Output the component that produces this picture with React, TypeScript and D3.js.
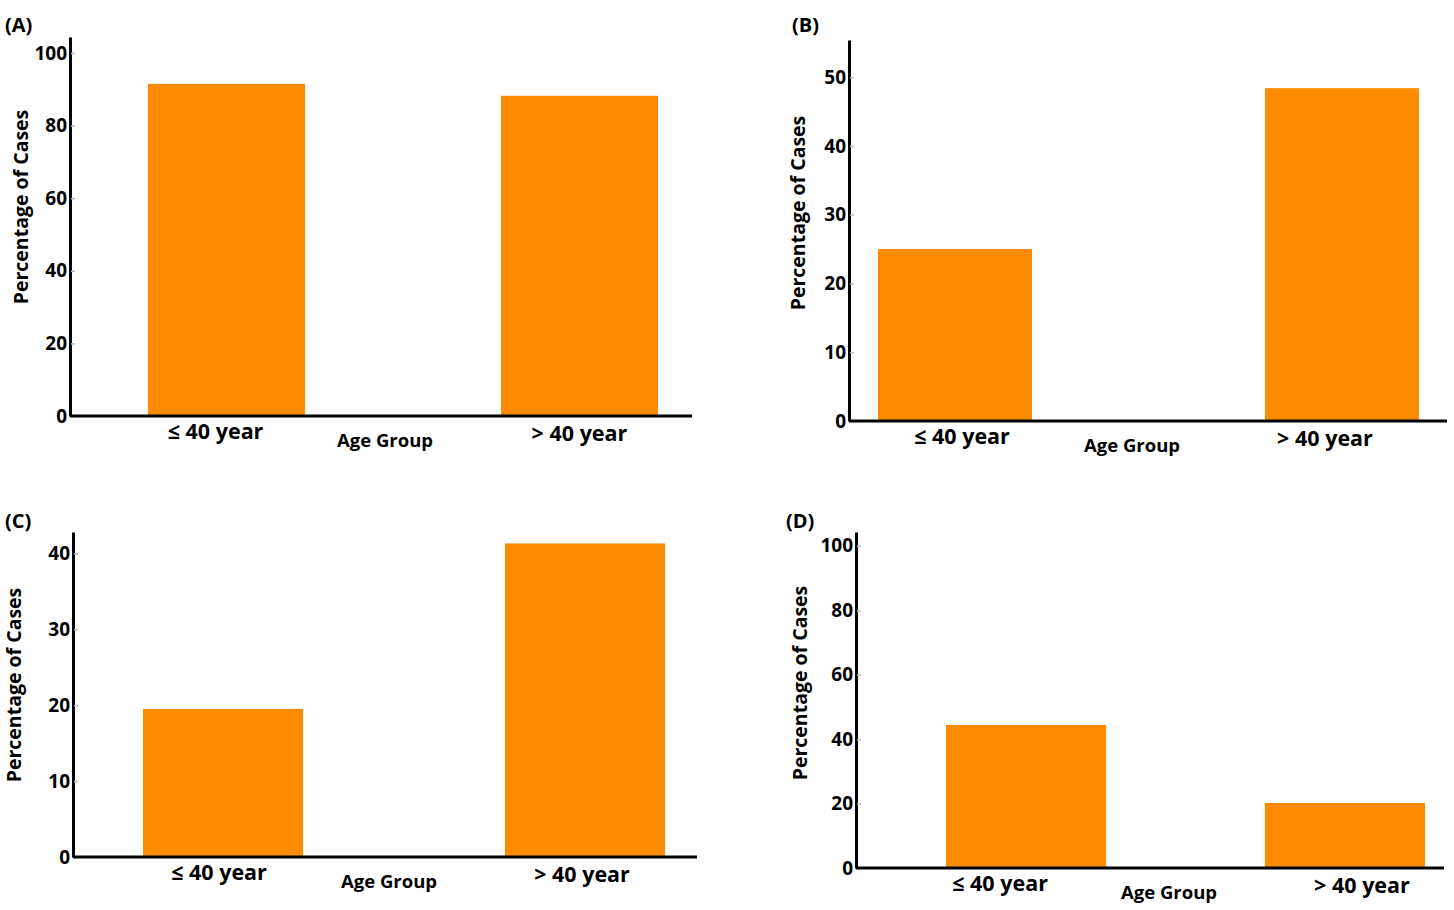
import React, { useRef, useEffect } from "react";
import * as d3 from "d3";

// shared categories
const ageGroups = ["≤ 40 year", "> 40 year"];

// percentage of cases per panel
const valuesA = [91.5, 88.2];
const valuesB = [25.0, 48.4];
const valuesC = [19.5, 41.3];
const valuesD = [44.4, 20.2];

// tick values per panel
const ticksA = [0, 20, 40, 60, 80, 100];
const ticksB = [0, 10, 20, 30, 40, 50];
const ticksC = [0, 10, 20, 30, 40];
const ticksD = [0, 20, 40, 60, 80, 100];

// y domain maxima (axis top)
const maxA = 104.4;
const maxB = 55.4;
const maxC = 42.8;
const maxD = 104.3;

const panelLabels = ["(A)", "(B)", "(C)", "(D)"];

export default function App() {
    const svgRef = useRef(null);
    const width = 1454;
    const height = 910;

    useEffect(() => {
        const panels = [
            {
                label: panelLabels[0], values: valuesA, ticks: ticksA, max: maxA,
                left: 70, right: 692, top: 37, bottom: 416,
                bars: [148, 658], pad: 0.555, labelDx: [-11, 0],
                titleX: 5, titleY: 32, ylabX: 21, ylabY: 207, groupX: 385,
            },
            {
                label: panelLabels[1], values: valuesB, ticks: ticksB, max: maxB,
                left: 849, right: 1447, top: 40, bottom: 421,
                bars: [878, 1419], pad: 0.602, labelDx: [7, -17],
                titleX: 792, titleY: 32, ylabX: 798, ylabY: 213, groupX: 1132,
            },
            {
                label: panelLabels[2], values: valuesC, ticks: ticksC, max: maxC,
                left: 73, right: 697, top: 532, bottom: 857,
                bars: [143, 665], pad: 0.558, labelDx: [-4, -3],
                titleX: 5, titleY: 528, ylabX: 14, ylabY: 685, groupX: 389,
            },
            {
                label: panelLabels[3], values: valuesD, ticks: ticksD, max: maxD,
                left: 856, right: 1444, top: 532, bottom: 868,
                bars: [946, 1425], pad: 0.498, labelDx: [-26, 17],
                titleX: 786, titleY: 528, ylabX: 800, ylabY: 683, groupX: 1169,
            },
        ];

        const svg = d3
            .select(svgRef.current)
            .attr("viewBox", `0 0 ${width} ${height}`)
            .attr("width", width)
            .attr("height", height)
            .style("font-family", "'Open Sans', sans-serif")
            .style("font-weight", "bold");

        svg.selectAll("*").remove();

        svg.append("rect").attr("width", width).attr("height", height).attr("fill", "white");

        panels.forEach((p) => {
            const g = svg.append("g");

            const x = d3
                .scaleBand()
                .domain(ageGroups)
                .range(p.bars as [number, number])
                .paddingInner(p.pad)
                .paddingOuter(0);

            const y = d3
                .scaleLinear()
                .domain([0, p.max])
                .range([p.bottom, p.top]);

            // bars
            g.selectAll("rect.bar")
                .data(p.values)
                .join("rect")
                .attr("class", "bar")
                .attr("x", (_, i) => x(ageGroups[i])!)
                .attr("width", x.bandwidth())
                .attr("y", (d) => y(d))
                .attr("height", (d) => y(0) - y(d))
                .attr("fill", "#ff8c00");

            // y axis
            g.append("g")
                .attr("transform", `translate(${p.left},0)`)
                .call(
                    d3.axisLeft(y)
                        .tickValues(p.ticks)
                        .tickSize(0)
                        .tickPadding(3)
                        .tickSizeOuter(0)
                )
                .call((ax) => ax.select(".domain").attr("stroke", "black").attr("stroke-width", 3))
                .call((ax) =>
                    ax.selectAll(".tick text")
                        .attr("font-size", 19)
                        .attr("font-family", "'Open Sans', sans-serif")
                        .attr("font-weight", "bold")
                        .attr("fill", "black")
                )
                .call((ax) =>
                    ax.selectAll(".tick")
                        .append("line")
                        .attr("x1", 1)
                        .attr("x2", 5)
                        .attr("stroke", "#bbb")
                        .attr("stroke-width", 1.5)
                );

            // x axis line
            g.append("line")
                .attr("x1", p.left)
                .attr("x2", p.right)
                .attr("y1", p.bottom)
                .attr("y2", p.bottom)
                .attr("stroke", "black")
                .attr("stroke-width", 3);

            // category labels
            g.selectAll("text.cat")
                .data(ageGroups)
                .join("text")
                .attr("class", "cat")
                .attr("x", (d, i) => x(d)! + x.bandwidth() / 2 + p.labelDx[i])
                .attr("y", (_, i) => p.bottom + 23 + i * 2)
                .attr("text-anchor", "middle")
                .attr("font-size", 21.5)
                .text((d) => d);

            g.append("text")
                .attr("x", p.groupX)
                .attr("y", p.bottom + 31)
                .attr("text-anchor", "middle")
                .attr("font-size", 18.5)
                .text("Age Group");

            g.append("text")
                .attr("transform", `translate(${p.ylabX},${p.ylabY}) rotate(-90)`)
                .attr("text-anchor", "middle")
                .attr("dy", "0.35em")
                .attr("font-size", 19.5)
                .text("Percentage of Cases");

            g.append("text")
                .attr("x", p.titleX)
                .attr("y", p.titleY)
                .attr("font-size", 20)
                .text(p.label);
        });
    }, []);

    return (
        <svg
            ref={svgRef}
            style={{ position: "absolute", left: 0, top: 0, display: "block" }}
        ></svg>
    );
}
